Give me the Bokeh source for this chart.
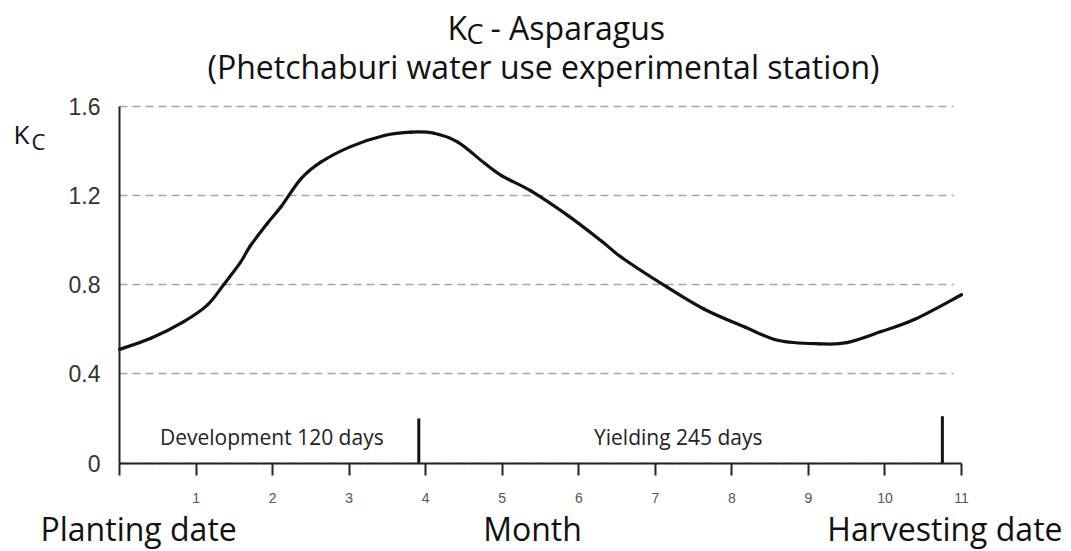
from bokeh.plotting import figure
from bokeh.models import Range1d, FixedTicker, Label
from bokeh.embed import file_html
from bokeh.resources import INLINE

# ---- data ----
months = [0, 0.41, 0.84, 1.15, 1.36, 1.58, 1.71, 1.93, 2.11, 2.37, 2.63, 3.02, 3.46,
          3.81, 4.11, 4.42, 4.77, 4.99, 5.38, 5.86, 6.3, 6.57, 7.15, 7.64, 8.17,
          8.61, 9.15, 9.5, 9.95, 10.39, 11.0]
kc = [0.51, 0.56, 0.635, 0.71, 0.80, 0.90, 0.975, 1.075, 1.15, 1.275, 1.35, 1.42, 1.47,
      1.485, 1.48, 1.44, 1.345, 1.29, 1.22, 1.11, 0.995, 0.92, 0.79, 0.69, 0.61,
      0.55, 0.535, 0.54, 0.59, 0.645, 0.755]

x_ticks = list(range(12))
y_ticks = [0, 0.4, 0.8, 1.2, 1.6]
y_tick_labels = ["0", "0.4", "0.8", "1.2", "1.6"]

stage_month = [3.91, 10.75]
stage_height = [0.2, 0.21]
stage_labels = ["Development 120 days", "Yielding 245 days"]
stage_label_x = [1.99, 7.30]

title_line1 = "- Asparagus"
title_line2 = "(Phetchaburi water use experimental station)"
bottom_labels = ["Planting date", "Month", "Harvesting date"]

FONT = "Open Sans"
W, H = 1071, 551

# the frame covers the whole canvas; axes are pinned at 0 with bounds
PX_PER_X = 842 / 11.0
PX_PER_Y = 356.5 / 1.6
X0_PX, Y0_PX = 119, 462.5


def dx(px):
    return (px - X0_PX) / PX_PER_X


def dy(py):
    return (Y0_PX - py) / PX_PER_Y


p = figure(width=W, height=H, output_backend="svg", toolbar_location=None,
           x_range=Range1d(dx(0), dx(W)), y_range=Range1d(dy(H), dy(0)),
           min_border=0)
p.min_border_left = 0
p.min_border_right = 0
p.min_border_top = 0
p.min_border_bottom = 0
p.outline_line_color = None
p.background_fill_color = "white"
p.border_fill_color = "white"

# axes
xa = p.xaxis[0]
xa.fixed_location = 0
xa.bounds = (0, 11)
xa.ticker = FixedTicker(ticks=x_ticks)
xa.major_label_overrides = {0: ""}
xa.major_tick_out = 12
xa.major_tick_in = 0
xa.minor_tick_line_color = None
xa.axis_line_width = 2
xa.axis_line_color = "#222222"
xa.major_tick_line_width = 2
xa.major_tick_line_color = "#222222"
xa.major_label_text_font = "Liberation Sans"
xa.major_label_text_font_size = "14px"
xa.major_label_text_color = "#555555"
xa.major_label_standoff = 18

ya = p.yaxis[0]
ya.fixed_location = 0
ya.bounds = (0, 1.6)
ya.ticker = FixedTicker(ticks=y_ticks)
ya.major_label_overrides = {t: l for t, l in zip(y_ticks, y_tick_labels)}
ya.major_tick_line_color = None
ya.major_tick_out = 0
ya.major_tick_in = 0
ya.minor_tick_line_color = None
ya.axis_line_width = 2
ya.axis_line_color = "#222222"
ya.major_label_text_font = "Liberation Sans"
ya.major_label_text_font_size = "23px"
ya.major_label_text_color = "#333333"
ya.major_label_standoff = 19

# grid
p.xgrid.grid_line_color = None
p.ygrid.grid_line_color = "#a6a6a6"
p.ygrid.grid_line_dash = "8 5"
p.ygrid.grid_line_width = 1.5
p.ygrid.cross_bounds = (0, 10.9)

# smooth curve through the read points (Catmull-Rom as cubic Bezier pieces)
n = len(months)
x0s, y0s, x1s, y1s, cx0, cy0, cx1, cy1 = [], [], [], [], [], [], [], []
for i in range(n - 1):
    a = max(i - 1, 0)
    d = min(i + 2, n - 1)
    x0s.append(months[i]); y0s.append(kc[i])
    x1s.append(months[i + 1]); y1s.append(kc[i + 1])
    cx0.append(months[i] + (months[i + 1] - months[a]) / 6.0)
    cy0.append(kc[i] + (kc[i + 1] - kc[a]) / 6.0)
    cx1.append(months[i + 1] - (months[d] - months[i]) / 6.0)
    cy1.append(kc[i + 1] - (kc[d] - kc[i]) / 6.0)
p.bezier(x0=x0s, y0=y0s, x1=x1s, y1=y1s, cx0=cx0, cy0=cy0, cx1=cx1, cy1=cy1,
         line_color="#111111", line_width=3.2, line_cap="round")

# stage markers
p.segment(x0=stage_month, y0=[0, 0], x1=stage_month, y1=stage_height,
          line_color="#111111", line_width=3)


def lab(px, py, text, size, align="left", color="#111111"):
    # py is the wanted baseline; compensate the renderer's baseline offset
    p.add_layout(Label(x=dx(px), y=dy(py - 0.36 * size), text=text, text_align=align,
                       text_baseline="alphabetic", text_font=FONT,
                       text_font_size=f"{size}px", text_color=color))


for lx, lt in zip(stage_label_x, stage_labels):
    lab(X0_PX + lx * PX_PER_X, 444, lt, 21, "center", "#222222")

# title
lab(447, 39, "K", 32)
lab(466, 43, "C", 27)
lab(490, 39, title_line1, 32)
lab(543, 78, title_line2, 32, "center")

# y-axis name
lab(13, 143, "K", 26)
lab(31, 148, "C", 22)

# bottom labels
lab(40, 540, bottom_labels[0], 32)
lab(532, 540, bottom_labels[1], 32, "center")
lab(1062, 540, bottom_labels[2], 32, "right")

open("out.html", "w").write(file_html(p, INLINE))
